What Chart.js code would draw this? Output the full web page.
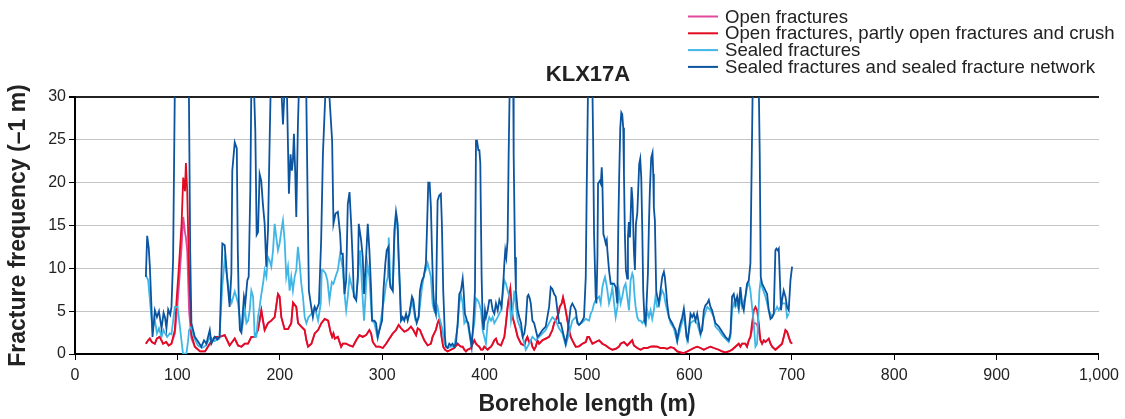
<!DOCTYPE html>
<html>
<head>
<meta charset="utf-8">
<title>KLX17A</title>
<script src="https://cdn.jsdelivr.net/npm/chart.js@4.4.1/dist/chart.umd.min.js"></script>
<style>
  html, body { margin: 0; padding: 0; background: #fff; }
  #chart { display: block; }
</style>
</head>
<body>
<canvas id="chart" width="1125" height="419"></canvas>
<script>
// KLX17A - fracture frequency along the borehole
const chartTitle = 'KLX17A';
const seriesNames = [
    'Open fractures',
    'Open fractures, partly open fractures and crush',
    'Sealed fractures',
    'Sealed fractures and sealed fracture network'
];
const xTickLabels = ['0', '100', '200', '300', '400', '500', '600', '700', '800', '900', '1,000'];

// depth (m) for open / crush series
const crushDepth = [
    69.2, 71.5, 73.1, 75.0, 78.0, 79.9, 82.7, 86.0, 89.0, 91.5,
    94.2, 97.5, 99.2, 101.5, 104.1, 105.7, 107.4, 108.3, 109.6, 111.4,
    113.7, 117.0, 122.1, 127.0, 131.6, 136.5, 141.3, 146.2, 151.0, 156.0,
    159.2, 162.5, 165.7, 169.0, 172.2, 175.5, 178.7, 182.0, 183.6, 185.2,
    188.5, 191.7, 195.0, 198.2, 199.8, 201.5, 204.7, 208.0, 211.2, 212.9,
    216.1, 217.8, 221.0, 224.3, 226.0, 227.6, 230.9, 234.1, 237.4, 240.6,
    243.9, 247.2, 249.5, 251.1, 252.4, 253.7, 256.7, 259.9, 261.5, 264.8,
    268.1, 271.3, 274.6, 277.8, 281.0, 284.3, 287.5, 289.2, 290.8, 294.0,
    297.3, 300.6, 303.8, 307.1, 310.3, 313.5, 316.1, 318.4, 321.6, 324.9,
    328.1, 330.4, 333.1, 334.7, 336.9, 338.9, 341.1, 344.4, 347.6, 349.2,
    350.8, 352.4, 354.1, 355.1, 356.4, 358.0, 359.6, 361.3, 363.9, 367.1,
    370.4, 373.7, 375.3, 376.9, 378.6, 380.2, 381.8, 383.4, 386.7, 388.3,
    390.0, 391.6, 393.2, 394.8, 396.5, 398.1, 399.7, 401.3, 403.0, 404.6,
    406.3, 407.9, 409.5, 411.1, 412.8, 416.0, 419.3, 420.9, 422.5, 424.2,
    425.1, 426.1, 427.4, 429.0, 430.7, 432.3, 435.6, 438.8, 440.2, 441.8,
    443.5, 445.1, 446.7, 448.4, 450.0, 451.6, 453.2, 456.5, 459.7, 463.0,
    466.2, 467.9, 469.5, 472.1, 473.4, 475.3, 476.6, 477.9, 479.2, 480.9,
    482.5, 484.1, 485.7, 487.4, 489.0, 492.2, 495.5, 498.8, 500.4, 502.0,
    503.6, 505.3, 508.5, 511.8, 515.0, 518.3, 521.5, 524.8, 528.0, 531.3,
    532.8, 536.1, 539.3, 542.6, 544.2, 545.8, 549.1, 552.3, 555.6, 558.8,
    562.1, 565.3, 568.6, 571.8, 575.1, 578.3, 581.6, 584.8, 588.1, 591.3,
    594.6, 597.8, 601.1, 604.3, 607.6, 610.9, 614.1, 617.4, 620.6, 623.9,
    628.7, 631.9, 635.2, 638.4, 641.7, 644.9, 648.2, 649.8, 651.4, 654.7,
    656.3, 658.0, 659.6, 661.2, 662.9, 664.5, 666.1, 667.8, 669.4, 671.0,
    672.7, 674.3, 677.5, 679.2, 680.8, 684.0, 687.3, 690.5, 693.8, 695.4,
    697.0, 698.7, 700.3
];
const crushVals = [
    1.2, 1.6, 1.8, 1.4, 1.2, 1.8, 2.0, 1.2, 1.4, 1.0,
    1.2, 2.8, 6.3, 10.2, 15.2, 20.6, 19.0, 22.3, 19.0, 9.4,
    2.3, 0.85, 0.3, 0.3, 1.2, 2.0, 2.0, 2.2, 1.0, 1.8,
    1.0, 0.85, 1.2, 1.2, 2.0, 2.0, 2.8, 5.1, 3.9, 2.8,
    3.6, 3.9, 4.3, 7.0, 6.7, 4.3, 2.9, 2.9, 3.6, 6.0,
    5.5, 3.6, 3.2, 2.8, 1.6, 0.85, 1.2, 2.4, 2.8, 3.6,
    4.1, 3.9, 2.6, 2.0, 2.4, 1.8, 2.0, 0.85, 1.2, 1.2,
    1.0, 0.85, 1.6, 2.2, 2.0, 2.2, 2.8, 2.4, 1.4, 0.85,
    0.85, 0.7, 1.2, 1.8, 2.4, 2.8, 3.4, 3.0, 2.6, 2.8,
    3.2, 2.8, 2.2, 3.0, 2.8, 2.2, 1.6, 1.0, 1.2, 2.0,
    2.4, 2.8, 3.6, 3.9, 3.6, 2.0, 0.85, 0.5, 0.3, 0.5,
    0.7, 1.2, 1.0, 0.85, 0.85, 0.5, 0.3, 0.5, 0.7, 1.2,
    1.6, 1.2, 1.0, 0.85, 0.5, 0.5, 0.85, 0.7, 0.5, 0.7,
    0.85, 1.2, 1.6, 1.8, 1.2, 1.0, 2.0, 3.6, 5.5, 7.0,
    7.6, 5.9, 4.3, 3.6, 2.8, 2.0, 1.2, 1.0, 1.6, 2.0,
    1.4, 1.6, 0.85, 0.5, 0.85, 1.6, 1.2, 1.6, 1.8, 2.0,
    2.8, 3.6, 3.9, 4.7, 5.5, 5.9, 6.6, 5.9, 5.1, 3.9,
    2.8, 2.0, 1.6, 1.2, 0.85, 0.9, 1.2, 1.4, 2.0, 2.0,
    1.6, 1.2, 1.4, 1.6, 1.2, 1.0, 0.7, 0.5, 0.6, 0.85,
    1.2, 1.4, 1.0, 1.4, 1.6, 1.0, 0.7, 0.5, 0.7, 0.7,
    0.85, 0.9, 0.85, 0.7, 0.7, 0.6, 0.8, 0.7, 0.3, 0.2,
    0.1, 0.3, 0.5, 0.7, 0.85, 0.7, 0.5, 0.7, 0.85, 0.7,
    0.5, 0.3, 0.2, 0.3, 0.5, 0.85, 1.2, 0.85, 1.2, 1.2,
    0.85, 1.6, 2.0, 3.6, 5.1, 5.5, 5.1, 3.6, 1.6, 1.2,
    1.6, 1.4, 1.8, 1.2, 0.85, 0.5, 0.85, 1.2, 2.8, 2.6,
    2.0, 1.4, 1.2
];
// open fractures: mostly hidden under the crush line
const openVals = [
    1.2, 1.6, 1.8, 1.4, 1.2, 1.8, 2.0, 1.2, 1.4, 1.0,
    1.2, 2.4, 4.5, 8.0, 12.5, 16.0, 14.2, 13.6, 12.0, 5.0,
    1.8, 0.85, 0.3, 0.3, 1.2, 2.0, 2.0, 2.2, 1.0, 1.8,
    1.0, 0.85, 1.2, 1.2, 2.0, 2.0, 2.8, 5.1, 3.9, 2.8,
    3.6, 3.9, 4.3, 7.0, 6.7, 4.3, 2.9, 2.9, 3.6, 6.0,
    5.5, 3.6, 3.2, 2.8, 1.6, 0.85, 1.2, 2.4, 2.8, 3.6,
    4.1, 3.9, 2.6, 2.0, 2.4, 1.8, 2.0, 0.85, 1.2, 1.2,
    1.0, 0.85, 1.6, 2.2, 2.0, 2.2, 2.8, 2.4, 1.4, 0.85,
    0.85, 0.7, 1.2, 1.8, 2.4, 2.8, 3.4, 3.0, 2.6, 2.8,
    3.2, 2.8, 2.2, 3.0, 2.8, 2.2, 1.6, 1.0, 1.2, 2.0,
    2.4, 2.8, 3.6, 3.9, 3.6, 2.0, 0.85, 0.5, 0.3, 0.5,
    0.7, 1.2, 1.0, 0.85, 0.85, 0.5, 0.3, 0.5, 0.7, 1.2,
    1.6, 1.2, 1.0, 0.85, 0.5, 0.5, 0.85, 0.7, 0.5, 0.7,
    0.85, 1.2, 1.6, 1.8, 1.2, 1.0, 2.0, 3.6, 5.5, 7.0,
    7.6, 5.9, 4.3, 3.6, 2.8, 2.0, 1.2, 1.0, 1.6, 2.0,
    1.4, 1.6, 0.85, 0.5, 0.85, 1.6, 1.2, 1.6, 1.8, 2.0,
    2.8, 3.6, 3.9, 4.7, 5.5, 5.9, 6.6, 5.9, 5.1, 3.9,
    2.8, 2.0, 1.6, 1.2, 0.85, 0.9, 1.2, 1.4, 2.0, 2.0,
    1.6, 1.2, 1.4, 1.6, 1.2, 1.0, 0.7, 0.5, 0.6, 0.85,
    1.2, 1.4, 1.0, 1.4, 1.6, 1.0, 0.7, 0.5, 0.7, 0.7,
    0.85, 0.9, 0.85, 0.7, 0.7, 0.6, 0.8, 0.7, 0.3, 0.2,
    0.1, 0.3, 0.5, 0.7, 0.85, 0.7, 0.5, 0.7, 0.85, 0.7,
    0.5, 0.3, 0.2, 0.3, 0.5, 0.85, 1.2, 0.85, 1.2, 1.2,
    0.85, 1.6, 2.0, 2.8, 3.6, 3.6, 3.4, 2.6, 1.6, 1.2,
    1.6, 1.4, 1.8, 1.2, 0.85, 0.5, 0.85, 1.2, 2.8, 2.6,
    2.0, 1.4, 1.2
];

const sealedDepth = [
    69.2, 71.5, 73.7, 75.7, 78.0, 80.0, 82.0, 84.5, 86.5, 88.0,
    90.0, 92.6, 94.2, 97.5, 100.2, 102.8, 105.4, 108.7, 110.4, 111.4,
    113.7, 116.0, 120.0, 124.0, 128.0, 132.0, 136.0, 141.0, 143.9, 146.2,
    148.5, 151.0, 153.0, 156.0, 157.5, 159.2, 160.8, 162.5, 164.1, 165.7,
    167.4, 169.0, 170.6, 172.2, 173.9, 175.5, 177.1, 178.7, 180.3, 182.0,
    183.6, 185.2, 186.9, 188.5, 190.1, 191.7, 193.4, 195.0, 196.6, 198.2,
    199.8, 201.5, 203.1, 204.7, 206.3, 208.0, 209.6, 211.2, 212.8, 214.5,
    216.1, 217.7, 219.4, 221.0, 222.6, 224.3, 226.0, 228.0, 230.9, 234.1,
    237.4, 240.0, 241.0, 242.1, 244.7, 246.5, 248.5, 250.8, 252.4, 254.4,
    256.7, 258.9, 261.5, 263.2, 264.8, 266.4, 268.1, 269.7, 271.3, 274.6,
    277.1, 278.4, 280.5, 282.3, 284.0, 285.5, 287.5, 289.2, 290.1, 292.4,
    295.6, 297.3, 300.6, 302.2, 303.8, 305.5, 306.4, 308.0, 310.3, 311.9,
    313.5, 315.1, 316.1, 317.4, 318.4, 320.0, 323.3, 326.5, 329.1, 332.4,
    335.6, 338.9, 341.1, 342.7, 344.4, 346.0, 347.6, 349.2, 350.8, 352.4,
    354.1, 355.7, 357.3, 359.0, 360.6, 363.9, 367.1, 370.4, 373.7, 375.3,
    376.9, 378.6, 380.2, 381.8, 383.4, 386.7, 390.0, 391.6, 393.2, 394.8,
    396.5, 398.1, 399.7, 401.3, 403.0, 404.6, 406.3, 407.9, 409.5, 412.8,
    416.0, 419.3, 420.9, 422.5, 424.2, 425.8, 427.4, 429.0, 430.7, 432.3,
    435.6, 438.8, 440.2, 443.5, 446.7, 450.0, 453.2, 456.5, 459.7, 463.0,
    466.2, 469.5, 472.7, 476.0, 479.2, 482.5, 485.7, 489.0, 492.2, 495.5,
    498.8, 502.0, 503.6, 505.3, 506.9, 508.5, 511.8, 513.4, 515.0, 516.6,
    517.6, 518.9, 519.9, 521.5, 523.2, 524.8, 526.4, 528.0, 529.7, 531.2,
    532.8, 534.5, 536.1, 537.7, 539.3, 541.0, 542.6, 544.2, 545.2, 546.5,
    547.5, 549.1, 550.7, 552.3, 554.0, 555.6, 557.2, 558.8, 560.5, 562.1,
    563.7, 565.3, 566.9, 568.6, 570.2, 571.8, 573.5, 575.1, 576.7, 578.3,
    581.6, 584.8, 588.1, 591.3, 594.6, 597.8, 601.1, 604.3, 607.6, 610.9,
    614.1, 617.4, 620.6, 623.9, 625.4, 628.7, 631.9, 635.2, 638.4, 640.1,
    641.7, 643.3, 644.9, 646.6, 648.2, 649.8, 651.4, 654.7, 656.3, 658.0,
    659.6, 661.2, 662.9, 664.5, 666.1, 667.1, 668.4, 669.4, 671.0, 674.3,
    677.5, 680.8, 684.0, 685.6, 687.3, 690.5, 693.8, 695.4, 697.0
];
const sealedVals = [
    9.2, 8.6, 5.5, 2.8, 4.0, 2.4, 3.0, 2.0, 2.8, 2.4,
    2.0, 2.4, 2.3, 5.5, 5.5, 2.8, 0.1, 0.0, 1.5, 2.8,
    3.2, 2.0, 1.0, 0.7, 1.0, 2.0, 1.5, 1.8, 8.0, 11.0,
    9.0, 6.7, 6.0, 7.3, 6.7, 5.9, 4.3, 2.8, 3.6, 5.5,
    3.6, 3.9, 5.1, 7.4, 6.7, 2.0, 2.0, 4.3, 5.5, 7.0,
    8.2, 9.8, 9.0, 11.3, 10.9, 10.2, 12.1, 15.2, 13.6, 12.1,
    12.9, 14.4, 15.6, 13.3, 9.0, 10.2, 7.4, 9.0, 7.4, 9.0,
    9.8, 12.5, 10.6, 8.2, 6.7, 4.3, 3.6, 4.3, 4.7, 5.5,
    3.9, 5.9, 9.8, 9.8, 9.4, 8.6, 6.3, 8.4, 8.2, 9.0,
    9.8, 11.7, 10.0, 7.0, 5.1, 6.7, 9.0, 8.2, 7.4, 6.3,
    10.2, 12.1, 7.4, 3.9, 7.4, 10.6, 9.0, 5.5, 3.9, 3.6,
    1.8, 2.8, 5.5, 6.7, 8.2, 9.0, 13.6, 8.2, 7.4, 13.3,
    16.4, 14.4, 11.0, 7.0, 3.9, 4.0, 4.3, 4.5, 6.3, 4.0,
    4.3, 7.8, 9.4, 9.8, 10.6, 9.8, 9.0, 5.9, 5.0, 4.7,
    5.5, 4.3, 3.6, 2.8, 1.2, 0.7, 0.85, 0.85, 3.2, 5.9,
    7.0, 5.9, 3.6, 3.9, 3.6, 1.2, 3.6, 6.5, 6.3, 5.9,
    5.1, 2.8, 2.0, 1.2, 3.6, 4.3, 3.9, 4.3, 3.6, 4.3,
    5.1, 8.6, 8.2, 7.4, 6.7, 3.9, 5.1, 7.4, 5.5, 3.9,
    2.8, 1.2, 0.5, 1.2, 2.0, 1.6, 2.0, 2.4, 2.8, 3.6,
    4.3, 3.9, 3.0, 2.4, 1.0, 2.4, 3.9, 4.3, 3.4, 3.7,
    4.1, 3.9, 4.7, 5.1, 5.9, 6.3, 6.7, 5.9, 7.8, 8.6,
    9.0, 8.2, 7.4, 5.9, 6.7, 7.8, 6.0, 4.3, 5.5, 7.4,
    5.9, 6.7, 7.8, 8.2, 6.7, 5.1, 8.6, 9.4, 9.0, 6.7,
    5.5, 4.3, 3.9, 3.9, 3.6, 3.9, 3.4, 5.1, 4.3, 5.1,
    4.1, 5.1, 6.7, 5.5, 5.6, 6.7, 7.4, 7.0, 5.9, 5.1,
    3.6, 3.0, 1.4, 3.0, 4.5, 1.6, 3.6, 3.9, 3.6, 2.2,
    4.3, 5.5, 5.1, 4.3, 3.2, 2.8, 2.2, 1.8, 1.4, 2.0,
    5.1, 5.9, 5.5, 5.9, 5.1, 6.7, 5.5, 6.7, 7.8, 8.4,
    7.4, 5.5, 3.6, 0.85, 1.2, 3.9, 7.4, 8.4, 7.8, 6.7,
    5.1, 4.3, 5.1, 5.5, 5.1, 5.9, 5.9, 4.3, 4.7
];

// values above 30 run off the top of the plot
const networkDepth = [
    69.2, 70.5, 72.0, 73.1, 74.5, 75.7, 78.0, 80.0, 82.0, 84.5,
    86.5, 88.0, 89.3, 91.0, 93.0, 94.2, 95.8, 97.5, 104.0, 111.2,
    112.5, 113.7, 117.0, 120.0, 123.4, 126.0, 128.3, 131.6, 133.2, 136.5,
    139.0, 141.3, 143.9, 146.2, 148.5, 151.0, 152.7, 153.6, 156.0, 158.0,
    159.0, 160.0, 161.0, 162.5, 165.0, 166.3, 168.3, 169.6, 171.2, 172.2,
    173.5, 174.8, 176.1, 177.4, 178.7, 180.3, 181.9, 183.5, 185.2, 186.8,
    188.5, 190.1, 191.1, 196.0, 201.5, 203.1, 204.7, 205.8, 206.9, 208.9,
    210.5, 211.8, 212.8, 213.8, 215.1, 216.1, 217.7, 218.7, 222.0, 225.8,
    227.5, 228.4, 230.7, 232.3, 234.0, 235.6, 238.2, 240.4, 242.1, 244.7,
    246.5, 248.5, 251.1, 252.4, 254.4, 256.7, 258.9, 259.9, 261.5, 263.2,
    264.8, 266.4, 268.1, 269.7, 271.3, 272.3, 274.6, 276.2, 277.1, 279.4,
    281.0, 282.3, 284.3, 285.9, 287.5, 289.2, 290.1, 292.4, 294.0, 295.6,
    297.3, 299.9, 301.2, 303.1, 304.4, 306.1, 307.0, 308.0, 310.3, 311.9,
    313.5, 315.1, 316.1, 317.4, 318.4, 320.0, 321.6, 323.3, 324.9, 326.5,
    329.1, 330.4, 332.4, 333.7, 335.6, 336.9, 338.9, 340.5, 341.1, 342.7,
    343.7, 345.0, 346.3, 347.6, 348.6, 349.8, 350.8, 352.4, 354.1, 355.7,
    357.3, 358.3, 359.6, 361.3, 362.2, 363.9, 365.5, 367.1, 368.7, 370.4,
    372.0, 373.7, 375.3, 376.9, 378.6, 379.5, 380.8, 382.8, 384.1, 386.0,
    387.4, 389.0, 390.6, 391.6, 392.6, 393.9, 394.9, 395.8, 397.1, 398.1,
    399.1, 400.4, 401.4, 403.0, 404.6, 406.3, 407.9, 409.5, 411.1, 412.8,
    414.4, 416.6, 418.6, 419.3, 420.2, 421.2, 422.5, 423.5, 424.5, 426.0,
    428.0, 428.4, 429.7, 430.6, 432.3, 433.9, 435.6, 437.2, 438.8, 440.2,
    441.8, 442.8, 444.1, 445.1, 446.7, 448.4, 450.0, 451.6, 453.2, 456.5,
    459.7, 463.0, 464.6, 466.2, 467.9, 469.5, 471.1, 472.7, 474.4, 476.0,
    477.6, 479.2, 480.9, 482.5, 484.1, 485.7, 487.4, 489.0, 490.6, 492.2,
    493.9, 495.5, 497.1, 498.8, 499.7, 501.0, 503.0, 505.3, 506.0, 506.9,
    508.5, 509.2, 510.2, 510.8, 512.5, 513.5, 514.4, 515.0, 516.0, 517.0,
    518.3, 519.3, 519.9, 521.5, 523.2, 524.8, 526.4, 528.0, 529.6, 530.6,
    531.5, 532.5, 533.5, 534.4, 535.4, 536.1, 537.0, 538.0, 539.3, 540.0,
    540.9, 541.9, 542.6, 543.5, 544.5, 545.8, 546.8, 547.8, 549.1, 550.0,
    551.0, 552.0, 553.0, 554.0, 554.9, 556.2, 557.2, 558.2, 559.5, 560.5,
    561.4, 562.7, 564.0, 564.7, 565.3, 566.3, 567.6, 568.6, 570.2, 571.8,
    573.5, 575.1, 576.0, 577.3, 578.3, 580.0, 581.6, 583.2, 584.8, 586.5,
    588.1, 589.7, 591.3, 593.0, 594.6, 595.6, 597.2, 598.5, 599.5, 601.1,
    602.7, 604.3, 606.0, 607.6, 609.2, 610.9, 612.5, 614.1, 615.7, 617.4,
    619.0, 620.6, 622.2, 623.9, 625.4, 628.7, 631.9, 635.2, 638.4, 640.1,
    641.7, 643.3, 644.9, 646.6, 648.2, 649.8, 651.4, 653.1, 654.7, 656.3,
    658.0, 659.6, 660.5, 661.8, 664.0, 667.8, 668.7, 669.7, 671.0, 672.7,
    674.3, 675.9, 677.5, 679.2, 680.8, 682.4, 684.0, 685.0, 686.3, 687.3,
    688.3, 689.5, 690.5, 692.1, 693.8, 695.4, 697.0, 698.7, 700.3
];
const networkVals = [
    9.0, 13.8, 12.4, 10.2, 6.0, 2.0, 5.1, 4.3, 5.0, 3.0,
    4.8, 4.2, 3.0, 5.2, 4.6, 5.5, 11.0, 31, 40, 31,
    12, 3.6, 2.0, 1.5, 0.85, 1.6, 1.2, 2.8, 1.2, 2.0,
    1.7, 2.0, 12.9, 12.7, 9.0, 5.5, 9.4, 21.4, 24.7, 24.0,
    12.0, 5.9, 2.8, 2.5, 6.7, 5.9, 8.6, 9.0, 19.1, 31,
    40, 31, 26.0, 13.9, 14.2, 21.0, 20.2, 17.5, 15.2, 10.2,
    14.5, 25.0, 31, 40, 31, 26.8, 31, 35, 31, 18.7,
    23.3, 21.4, 22.6, 25.7, 21.0, 16.0, 26.8, 31, 40, 31,
    15.0, 7.4, 5.5, 4.3, 5.5, 5.1, 5.9, 13.3, 23.3, 31,
    35, 30, 24.9, 15.2, 16.4, 16.6, 14.0, 11.7, 11.7, 7.0,
    8.6, 17.5, 18.9, 15.2, 10.6, 6.7, 6.3, 9.0, 15.2, 13.3,
    11.3, 7.0, 11.3, 15.2, 12.1, 7.4, 3.9, 3.9, 3.6, 2.0,
    2.8, 3.9, 7.4, 10.6, 12.1, 12.5, 9.0, 7.8, 7.4, 14.4,
    16.6, 15.2, 11.3, 7.4, 3.9, 4.3, 3.9, 4.7, 3.9, 4.7,
    6.7, 6.3, 4.3, 3.6, 4.3, 7.4, 8.6, 9.0, 9.4, 10.6,
    14.4, 20.0, 20.0, 17.1, 12.1, 7.4, 5.5, 4.7, 17.9, 18.5,
    18.7, 15.2, 7.4, 2.0, 0.85, 0.7, 1.2, 1.0, 1.2, 0.85,
    1.2, 3.6, 7.0, 7.4, 8.8, 7.4, 4.7, 3.9, 3.6, 2.0,
    0.85, 3.6, 7.4, 24.9, 24.9, 23.8, 23.8, 22.3, 9.0, 3.9,
    2.8, 5.1, 4.3, 5.1, 6.3, 6.3, 5.1, 4.7, 5.9, 5.1,
    6.3, 5.5, 9.0, 10.6, 12.1, 11.3, 13.3, 23.3, 31, 40,
    31, 23.3, 11.3, 7.4, 5.1, 4.3, 3.6, 2.0, 2.4, 3.6,
    6.7, 6.9, 6.5, 5.9, 3.9, 3.6, 2.8, 2.0, 2.2, 2.8,
    3.2, 5.5, 7.8, 7.6, 7.0, 6.7, 5.1, 3.6, 3.6, 2.8,
    2.0, 1.2, 2.4, 3.9, 5.5, 5.9, 5.5, 5.1, 3.6, 3.4,
    3.6, 3.9, 4.3, 9.0, 19.1, 31, 40, 31, 24.9, 14.0,
    6.7, 5.9, 11.3, 19.9, 20.2, 19.9, 21.8, 20.2, 14.0, 13.6,
    12.9, 13.3, 12.1, 9.8, 8.2, 8.2, 8.2, 7.8, 5.9, 15.2,
    21.0, 26.4, 28.2, 28.0, 26.4, 21.0, 14.0, 9.8, 8.8, 13.6,
    15.4, 13.6, 16.0, 19.5, 17.9, 12.1, 9.8, 15.2, 16.4, 19.1,
    22.2, 22.8, 20.6, 14.4, 7.4, 3.9, 3.6, 5.9, 9.4, 15.2,
    19.1, 22.9, 23.5, 21.0, 17.1, 15.6, 7.4, 6.7, 5.9, 7.4,
    9.0, 9.6, 9.0, 7.4, 5.9, 4.3, 3.9, 3.6, 3.2, 2.8,
    1.6, 2.8, 3.6, 4.3, 5.3, 4.3, 2.0, 1.6, 2.8, 4.7,
    4.3, 4.7, 3.9, 4.7, 3.6, 2.4, 2.8, 5.1, 5.7, 5.9,
    6.3, 5.5, 5.1, 4.3, 3.6, 3.2, 2.6, 2.0, 1.6, 2.4,
    6.7, 7.0, 5.9, 6.7, 5.5, 7.8, 5.9, 5.1, 6.7, 8.2,
    8.6, 10.6, 19.1, 31, 40, 31, 23.3, 9.0, 8.2, 7.8,
    7.4, 7.0, 5.1, 4.1, 4.3, 4.7, 12.1, 12.3, 12.1, 12.3,
    9.0, 5.1, 6.3, 7.4, 6.7, 5.5, 5.1, 8.6, 10.2
];

const seriesColors = ['#e0489c', '#e30b1f', '#3fb6e6', '#0b54a0'];

function pairs(xs, ys) {
    if (xs.length !== ys.length) console.warn('length mismatch', xs.length, ys.length);
    return xs.map(function(x, i) { return { x: x, y: ys[i] }; });
}

// title + legend drawn at fixed spots like the original figure
const legendAndTitle = {
    id: 'legendAndTitle',
    afterDraw: function(chart) {
        const ctx = chart.ctx;
        ctx.save();
        ctx.fillStyle = '#222';
        ctx.font = 'bold 22px "Liberation Sans", Arial, sans-serif';
        ctx.textAlign = 'center';
        ctx.textBaseline = 'middle';
        ctx.fillText(chartTitle, 588, 75);

        ctx.font = '18.6px "Liberation Sans", Arial, sans-serif';
        ctx.textAlign = 'left';
        chart.data.datasets.forEach(function(ds, i) {
            const y = 16.5 + i * 16.8;
            ctx.strokeStyle = ds.borderColor;
            ctx.lineWidth = 2;
            ctx.beginPath();
            ctx.moveTo(688, y);
            ctx.lineTo(718, y);
            ctx.stroke();
            ctx.fillStyle = '#222';
            ctx.fillText(ds.label, 725, y + 1);
        });
        ctx.restore();
    }
};

Chart.defaults.font.family = '"Liberation Sans", Arial, sans-serif';
Chart.defaults.font.size = 16;
Chart.defaults.color = '#222';

const chart = new Chart(document.getElementById('chart'), {
    type: 'line',
    data: {
        datasets: [
            { label: seriesNames[0], data: pairs(crushDepth, openVals), borderColor: seriesColors[0], order: 4 },
            { label: seriesNames[1], data: pairs(crushDepth, crushVals), borderColor: seriesColors[1], order: 3 },
            { label: seriesNames[2], data: pairs(sealedDepth, sealedVals), borderColor: seriesColors[2], order: 2 },
            { label: seriesNames[3], data: pairs(networkDepth, networkVals), borderColor: seriesColors[3], order: 1 }
        ]
    },
    options: {
        responsive: false,
        animation: false,
        devicePixelRatio: 1,
        layout: { padding: { top: 97, right: 24, left: 0, bottom: 0 } },
        elements: {
            point: { radius: 0 },
            line: { borderWidth: 1.8, tension: 0 }
        },
        plugins: {
            legend: { display: false },
            title: { display: false },
            tooltip: { enabled: false }
        },
        scales: {
            x: {
                type: 'linear',
                min: 0,
                max: 1000,
                ticks: {
                    stepSize: 100,
                    padding: 6,
                    maxRotation: 0,
                    callback: function(value, index) { return xTickLabels[index]; }
                },
                grid: { drawOnChartArea: false, tickLength: 6, tickColor: '#000' },
                border: { color: '#000', width: 2 },
                title: {
                    display: true,
                    text: 'Borehole length (m)',
                    font: { size: 23, weight: 'bold' },
                    padding: { top: 0, bottom: 1 }
                },
                afterFit: function(scale) { scale.height = 65; }
            },
            y: {
                min: 0,
                max: 30,
                ticks: { stepSize: 5, padding: 3 },
                grid: {
                    color: function(c) { return c.tick && c.tick.value === 30 ? '#222' : '#c4c4c4'; },
                    lineWidth: function(c) { return c.tick && c.tick.value === 30 ? 2 : 1; },
                    tickColor: '#000',
                    tickLength: 6
                },
                border: { color: '#000', width: 2 },
                title: {
                    display: true,
                    text: 'Fracture frequency (–1 m)',
                    font: { size: 23, weight: 'bold' },
                    padding: { top: 5, bottom: 0 }
                },
                afterFit: function(scale) { scale.width = 75; }
            }
        }
    },
    plugins: [legendAndTitle]
});
</script>
</body>
</html>
